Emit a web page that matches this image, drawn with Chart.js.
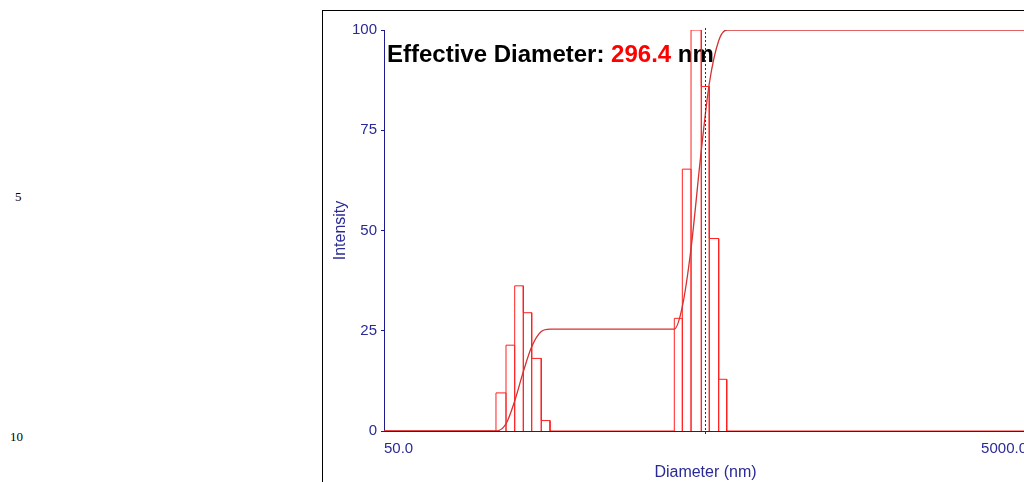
<!DOCTYPE html>
<html>
<head>
<meta charset="utf-8">
<script src="https://cdn.jsdelivr.net/npm/chart.js@4.4.1/dist/chart.umd.min.js"></script>
<style>
  html, body { margin: 0; padding: 0; background: #fff; overflow: hidden; width: 1024px; height: 482px; }
  .ligne { position: absolute; font: 13px "Liberation Serif", "Times New Roman", serif; color: #000; }
  #cadre { position: absolute; left: 322px; top: 10px; width: 800px; height: 600px; border-left: 1px solid #000; border-top: 1px solid #000; }
  #zone { position: absolute; left: 323px; top: 11px; width: 720px; height: 480px; }
</style>
</head>
<body>
<div class="ligne" style="left:15px; top:189px;">5</div>
<div class="ligne" style="left:10px; top:429px;">10</div>
<div id="cadre"></div>
<div id="zone"><canvas id="graphs" width="720" height="480"></canvas></div>

<script>
// histogramme : bornes des classes (nm) et intensites
const binLeft = [111.5, 119.8, 127.5, 135.6, 144.0, 154.2, 399.9, 423.5, 450.8, 485.2, 513.7, 549.5];
const binRight = [119.8, 127.5, 135.6, 144.0, 154.2, 164.2, 423.5, 450.8, 485.2, 513.7, 549.5, 582.0];
const binIntensity = [9.5, 21.4, 36.2, 29.5, 18.1, 2.6, 28.1, 65.3, 100, 85.9, 48.0, 12.9];

// courbe cumulee
const cumDiameter = [50, 111.5, 119.8, 127.5, 135.6, 144.0, 154.2, 164.2, 399.9, 423.5, 450.8, 485.2, 513.7, 549.5, 582.0, 5000];
const cumPercent = [0, 0, 1.8, 7.5, 14.8, 21.0, 24.8, 25.4, 25.4, 31.0, 45.5, 70.0, 86.6, 97.3, 100, 100];

const xTickValues = [50, 5000];
const yTickValues = [0, 25, 50, 75, 100];
const cursorDiameter = 497;
const effectiveDiameter = '296.4';

const bleu = '#1c1c8c';
const bleuTexte = '#2a2a96';

// contour des barres sous forme de ligne
var contour = [{x: xTickValues[0], y: 0}];
binLeft.forEach((l, i) => {
    var r = binRight[i];
    var h = binIntensity[i];
    contour.push({x: l, y: 0}, {x: l, y: h}, {x: r, y: h}, {x: r, y: 0});
});
contour.push({x: xTickValues[xTickValues.length - 1], y: 0});

var courbe = cumDiameter.map((d, i) => ({x: d, y: cumPercent[i]}));

const textePlugin = {
    id: 'texteDiametre',
    beforeDatasetsDraw(chart) {
        const {ctx, chartArea} = chart;
        ctx.save();
        ctx.font = 'bold 24px "Liberation Sans", Arial, sans-serif';
        ctx.textBaseline = 'alphabetic';
        var x = chartArea.left + 3;
        var y = chartArea.top + 32;
        var t1 = 'Effective Diameter: ';
        ctx.fillStyle = '#000';
        ctx.fillText(t1, x, y);
        x += ctx.measureText(t1).width;
        ctx.fillStyle = '#ff0000';
        ctx.fillText(effectiveDiameter, x, y);
        x += ctx.measureText(effectiveDiameter + ' ').width;
        ctx.fillStyle = '#000';
        ctx.fillText('nm', x, y);
        ctx.restore();
    },
    afterDatasetsDraw(chart) {
        const {ctx, chartArea, scales} = chart;
        var x = Math.round(scales.x.getPixelForValue(cursorDiameter)) + 0.5;
        ctx.save();
        ctx.strokeStyle = '#2424b4';
        ctx.lineWidth = 1;
        ctx.setLineDash([2, 2]);
        ctx.beginPath();
        ctx.moveTo(x, chartArea.top - 2);
        ctx.lineTo(x, chartArea.bottom + 5);
        ctx.stroke();
        ctx.restore();
    }
};

var ctx = document.getElementById('graphs').getContext('2d');
var currentChart = new Chart(ctx, {
    type: 'line',
    data: {
        datasets: [{
            label: 'cumul',
            data: courbe,
            borderColor: '#d63030',
            borderWidth: 1.3,
            pointRadius: 0,
            cubicInterpolationMode: 'monotone',
            fill: false
        }, {
            label: 'intensite',
            data: contour,
            borderColor: '#ff2020',
            borderWidth: 1,
            pointRadius: 0,
            tension: 0,
            fill: false
        }]
    },
    options: {
        responsive: false,
        animation: false,
        devicePixelRatio: 1,
        layout: {
            padding: {top: 19, right: 16, left: 0, bottom: 0}
        },
        plugins: {
            legend: {display: false},
            tooltip: {enabled: false}
        },
        scales: {
            x: {
                type: 'logarithmic',
                min: 50,
                max: 5000,
                afterFit: function(scale) { scale.height = 60; },
                afterBuildTicks: function(scale) {
                    scale.ticks = xTickValues.map(v => ({value: v}));
                },
                grid: {display: false},
                border: {display: true, color: bleu, width: 1},
                ticks: {
                    align: 'inner',
                    autoSkip: false,
                    maxRotation: 0,
                    padding: 1,
                    color: bleuTexte,
                    font: {family: '"Liberation Sans", Arial, sans-serif', size: 15},
                    callback: function(value) { return Number(value).toFixed(1); }
                },
                title: {
                    display: true,
                    text: 'Diameter (nm)',
                    color: bleuTexte,
                    font: {family: '"Liberation Sans", Arial, sans-serif', size: 16},
                    padding: {top: 0, bottom: 9}
                }
            },
            y: {
                min: 0,
                max: 100,
                afterFit: function(scale) { scale.width = 61; },
                afterBuildTicks: function(scale) {
                    scale.ticks = yTickValues.map(v => ({value: v}));
                },
                grid: {display: true, drawOnChartArea: false, drawTicks: true, tickLength: 3, color: bleu},
                border: {display: true, color: bleu, width: 1},
                ticks: {
                    padding: 4,
                    color: bleuTexte,
                    font: {family: '"Liberation Sans", Arial, sans-serif', size: 15}
                },
                title: {
                    display: true,
                    text: 'Intensity',
                    color: bleuTexte,
                    font: {family: '"Liberation Sans", Arial, sans-serif', size: 16},
                    padding: {top: 8, bottom: 0}
                }
            }
        }
    },
    plugins: [textePlugin]
});
</script>
</body>
</html>
